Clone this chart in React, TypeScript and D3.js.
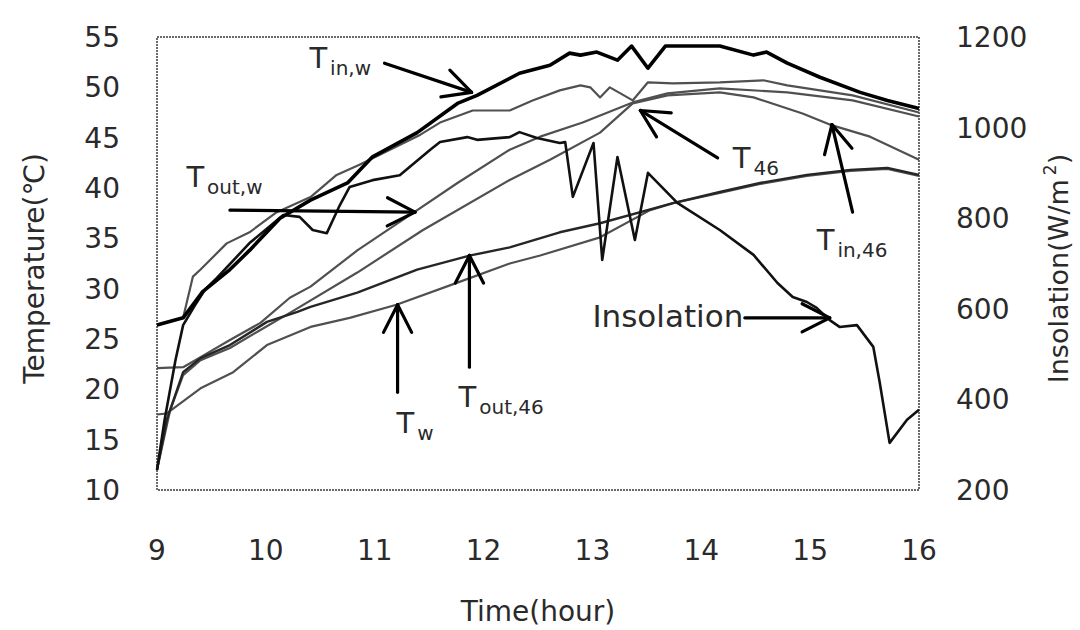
import * as d3 from 'd3';

const WIDTH = 1080;
const HEIGHT = 630;
const margin = { left: 157, right: 161, top: 37, bottom: 140 };

const hourTicks = [9, 10, 11, 12, 13, 14, 15, 16];
const tempTicks = [10, 15, 20, 25, 30, 35, 40, 45, 50, 55];
const insTicks = [200, 400, 600, 800, 1000, 1200];

// T_in,w (thick black)
const hoursTinW = [9.0, 9.24, 9.42, 9.67, 9.85, 10.13, 10.41, 10.75, 10.98, 11.39, 11.76, 11.94, 12.33, 12.61, 12.79, 12.89, 13.04, 13.23, 13.36, 13.51, 13.67, 14.17, 14.48, 14.6, 14.79, 15.09, 15.46, 15.71, 16.0];
const tempTinW = [26.4, 27.1, 29.7, 31.9, 33.8, 37.0, 38.8, 40.5, 43.1, 45.5, 48.4, 49.2, 51.4, 52.2, 53.4, 53.2, 53.5, 52.7, 54.1, 51.9, 54.1, 54.1, 53.2, 53.5, 52.4, 51.0, 49.5, 48.7, 47.9];

// T_46
const hoursT46 = [9.0, 9.24, 9.33, 9.4, 9.64, 9.85, 10.1, 10.41, 10.65, 10.86, 11.14, 11.42, 11.6, 11.9, 12.24, 12.45, 12.7, 12.89, 12.98, 13.07, 13.16, 13.37, 13.51, 13.74, 14.17, 14.57, 14.79, 15.39, 16.0];
const tempT46 = [26.4, 27.1, 31.2, 31.9, 34.5, 35.6, 37.6, 39.1, 41.3, 42.3, 43.8, 45.3, 46.5, 47.7, 47.7, 48.7, 49.7, 50.2, 50.0, 49.0, 50.0, 48.7, 50.5, 50.4, 50.5, 50.7, 50.2, 49.2, 47.5];

// T_out,w
const hoursToutW = [9.0, 9.24, 9.4, 9.67, 9.95, 10.22, 10.41, 10.84, 11.35, 11.76, 12.24, 12.52, 12.91, 13.37, 13.69, 14.17, 14.79, 15.39, 16.0];
const tempToutW = [22.1, 22.2, 23.2, 24.9, 26.6, 29.1, 30.2, 33.8, 37.5, 40.5, 43.8, 45.1, 46.5, 48.5, 49.4, 49.9, 49.5, 48.7, 47.1];

// T_in,46
const hoursTin46 = [9.0, 9.12, 9.24, 9.4, 9.67, 9.95, 10.22, 10.84, 11.44, 12.24, 12.61, 13.07, 13.37, 13.69, 14.17, 14.48, 14.93, 15.18, 15.55, 16.0];
const tempTin46 = [12.0, 17.9, 21.4, 22.9, 24.1, 25.9, 27.6, 31.6, 35.8, 40.8, 42.8, 45.5, 48.4, 49.2, 49.5, 49.0, 47.4, 46.3, 45.1, 42.8];

// T_out,46
const hoursTout46 = [9.0, 9.09, 9.24, 9.4, 9.67, 10.01, 10.29, 10.41, 10.84, 11.39, 11.88, 12.24, 12.7, 13.07, 13.74, 14.17, 14.54, 14.97, 15.37, 15.71, 16.0];
const tempTout46 = [12.0, 17.0, 21.7, 23.1, 24.4, 26.7, 27.7, 28.2, 29.6, 31.9, 33.3, 34.1, 35.6, 36.5, 38.5, 39.6, 40.5, 41.3, 41.8, 42.0, 41.3];

// T_w
const hoursTw = [9.0, 9.09, 9.4, 9.7, 10.01, 10.41, 10.77, 11.2, 11.76, 12.24, 12.52, 13.07, 13.53, 13.74, 14.17, 14.54, 14.97, 15.37, 15.71, 16.0];
const tempTw = [17.5, 17.6, 20.1, 21.7, 24.4, 26.2, 27.1, 28.4, 30.6, 32.5, 33.3, 35.1, 37.8, 38.5, 39.5, 40.4, 41.2, 41.7, 41.9, 41.2];

// Insolation (right axis)
const hoursIns = [9.0, 9.07, 9.17, 9.24, 9.35, 9.44, 9.55, 9.85, 10.16, 10.31, 10.43, 10.56, 10.68, 10.77, 10.98, 11.23, 11.51, 11.6, 11.85, 11.94, 12.24, 12.33, 12.49, 12.7, 12.75, 12.82, 13.01, 13.09, 13.23, 13.39, 13.51, 13.69, 13.78, 14.17, 14.48, 14.7, 14.84, 14.97, 15.06, 15.18, 15.27, 15.43, 15.58, 15.64, 15.73, 15.89, 16.0];
const insolation = [244, 355, 487, 564, 608, 642, 668, 745, 807, 803, 774, 767, 829, 869, 884, 895, 951, 968, 979, 973, 979, 990, 977, 966, 968, 847, 966, 708, 935, 752, 900, 856, 834, 774, 719, 657, 626, 615, 602, 575, 560, 564, 516, 436, 304, 355, 377];

// labels: [main, subscript], text anchor (hour, temp)
const labelText = [['T', 'in,w'], ['T', 'out,w'], ['T', '46'], ['T', 'in,46'], ['T', 'w'], ['T', 'out,46']];
const labelAt = [[10.4, 51.9], [9.27, 40.1], [14.29, 42.0], [15.06, 33.85], [11.2, 15.65], [11.77, 18.25]];
// arrows: tail (hour, temp) -> tip (hour, temp)
const arrowTail = [[11.09, 52.4], [9.67, 37.8], [14.15, 43.0], [15.39, 37.6], [11.21, 19.7], [11.87, 22.2], [14.4, 27.1]];
const arrowTip = [[11.89, 49.5], [11.37, 37.6], [13.44, 47.7], [15.2, 46.3], [11.21, 28.4], [11.87, 33.3], [15.18, 27.1]];

const FONT = 'DejaVu Sans, sans-serif';
const INK = '#2a2a2a';

export default function App() {
  const plotW = WIDTH - margin.left - margin.right;
  const plotH = HEIGHT - margin.top - margin.bottom;

  const x = d3.scaleLinear().domain([9, 16]).range([margin.left, margin.left + plotW]);
  const yT = d3.scaleLinear().domain([10, 55]).range([margin.top + plotH, margin.top]);
  const yI = d3.scaleLinear().domain([200, 1200]).range([margin.top + plotH, margin.top]);

  const series = [
    { name: 'Tout,w', hours: hoursToutW, values: tempToutW, y: yT, color: '#505050', width: 2.2 },
    { name: 'T46', hours: hoursT46, values: tempT46, y: yT, color: '#505050', width: 2.2 },
    { name: 'Tin,46', hours: hoursTin46, values: tempTin46, y: yT, color: '#505050', width: 2.2 },
    { name: 'Tw', hours: hoursTw, values: tempTw, y: yT, color: '#505050', width: 2.2 },
    { name: 'Tout,46', hours: hoursTout46, values: tempTout46, y: yT, color: '#262626', width: 2.4 },
    { name: 'Insolation', hours: hoursIns, values: insolation, y: yI, color: '#111', width: 2.6 },
    { name: 'Tin,w', hours: hoursTinW, values: tempTinW, y: yT, color: '#000', width: 3.6 },
  ];

  const makeLine = (s) =>
    d3.line<number>()
      .x((d, i) => x(s.hours[i]))
      .y((d) => s.y(d))(s.values);

  const arrow = (tail, tip, i) => {
    const x1 = x(tail[0]), y1 = yT(tail[1]);
    const x2 = x(tip[0]), y2 = yT(tip[1]);
    const ang = Math.atan2(y1 - y2, x1 - x2);
    const len = 31, spread = (27 * Math.PI) / 180;
    const w1 = [x2 + len * Math.cos(ang + spread), y2 + len * Math.sin(ang + spread)];
    const w2 = [x2 + len * Math.cos(ang - spread), y2 + len * Math.sin(ang - spread)];
    return (
      <g key={'arrow' + i} stroke="#000" strokeWidth={3.2} strokeLinecap="round" fill="none">
        <line x1={x1} y1={y1} x2={x2} y2={y2} />
        <line x1={x2} y1={y2} x2={w1[0]} y2={w1[1]} />
        <line x1={x2} y1={y2} x2={w2[0]} y2={w2[1]} />
      </g>
    );
  };

  return (
    <svg width={WIDTH} height={HEIGHT} style={{ position: 'absolute', left: 0, top: 0, background: '#fff' }}
      fontFamily={FONT}>
      <rect x={margin.left} y={margin.top} width={plotW} height={plotH}
        fill="none" stroke="#6a6a6a" strokeWidth={2} strokeDasharray="2,1" />

      {/* left axis */}
      {tempTicks.map((t) => (
        <text key={'t' + t} x={margin.left - 37} y={yT(t)} dy="0.36em" textAnchor="end" fontSize={28} fill={INK}>{t}</text>
      ))}
      {/* right axis */}
      {insTicks.map((t) => (
        <text key={'i' + t} x={margin.left + plotW + 37} y={yI(t)} dy="0.36em" textAnchor="start" fontSize={28} fill={INK}>{t}</text>
      ))}
      {/* bottom axis */}
      {hourTicks.map((h) => (
        <text key={'h' + h} x={x(h)} y={560} textAnchor="middle" fontSize={28} fill={INK}>{h}</text>
      ))}

      <text x={margin.left + plotW / 2} y={621} textAnchor="middle" fontSize={28} fill={INK}>Time(hour)</text>
      <text transform={`translate(44, ${margin.top + plotH / 2 + 5}) rotate(-90)`} textAnchor="middle" fontSize={28} fill={INK}>Temperature(℃)</text>
      <text transform={`translate(1068, ${margin.top + plotH / 2 + 5}) rotate(-90)`} textAnchor="middle" fontSize={27} fill={INK}>
        Insolation(W/m<tspan fontSize={17} dy={-12} dx={4}>2</tspan><tspan dy={12}>)</tspan>
      </text>

      {series.map((s) => (
        <path key={s.name} d={makeLine(s)} fill="none" stroke={s.color} strokeWidth={s.width} strokeLinejoin="round" />
      ))}

      {arrowTail.map((t, i) => arrow(t, arrowTip[i], i))}

      {labelText.map((l, i) => (
        <text key={'l' + i} x={x(labelAt[i][0])} y={yT(labelAt[i][1])} fontSize={29} fill={INK}>
          {l[0]}<tspan fontSize={20} dx={3} dy={7}>{l[1]}</tspan>
        </text>
      ))}
      <text x={x(13.0)} y={yT(26.2)} fontSize={31} fill={INK}>Insolation</text>
    </svg>
  );
}
